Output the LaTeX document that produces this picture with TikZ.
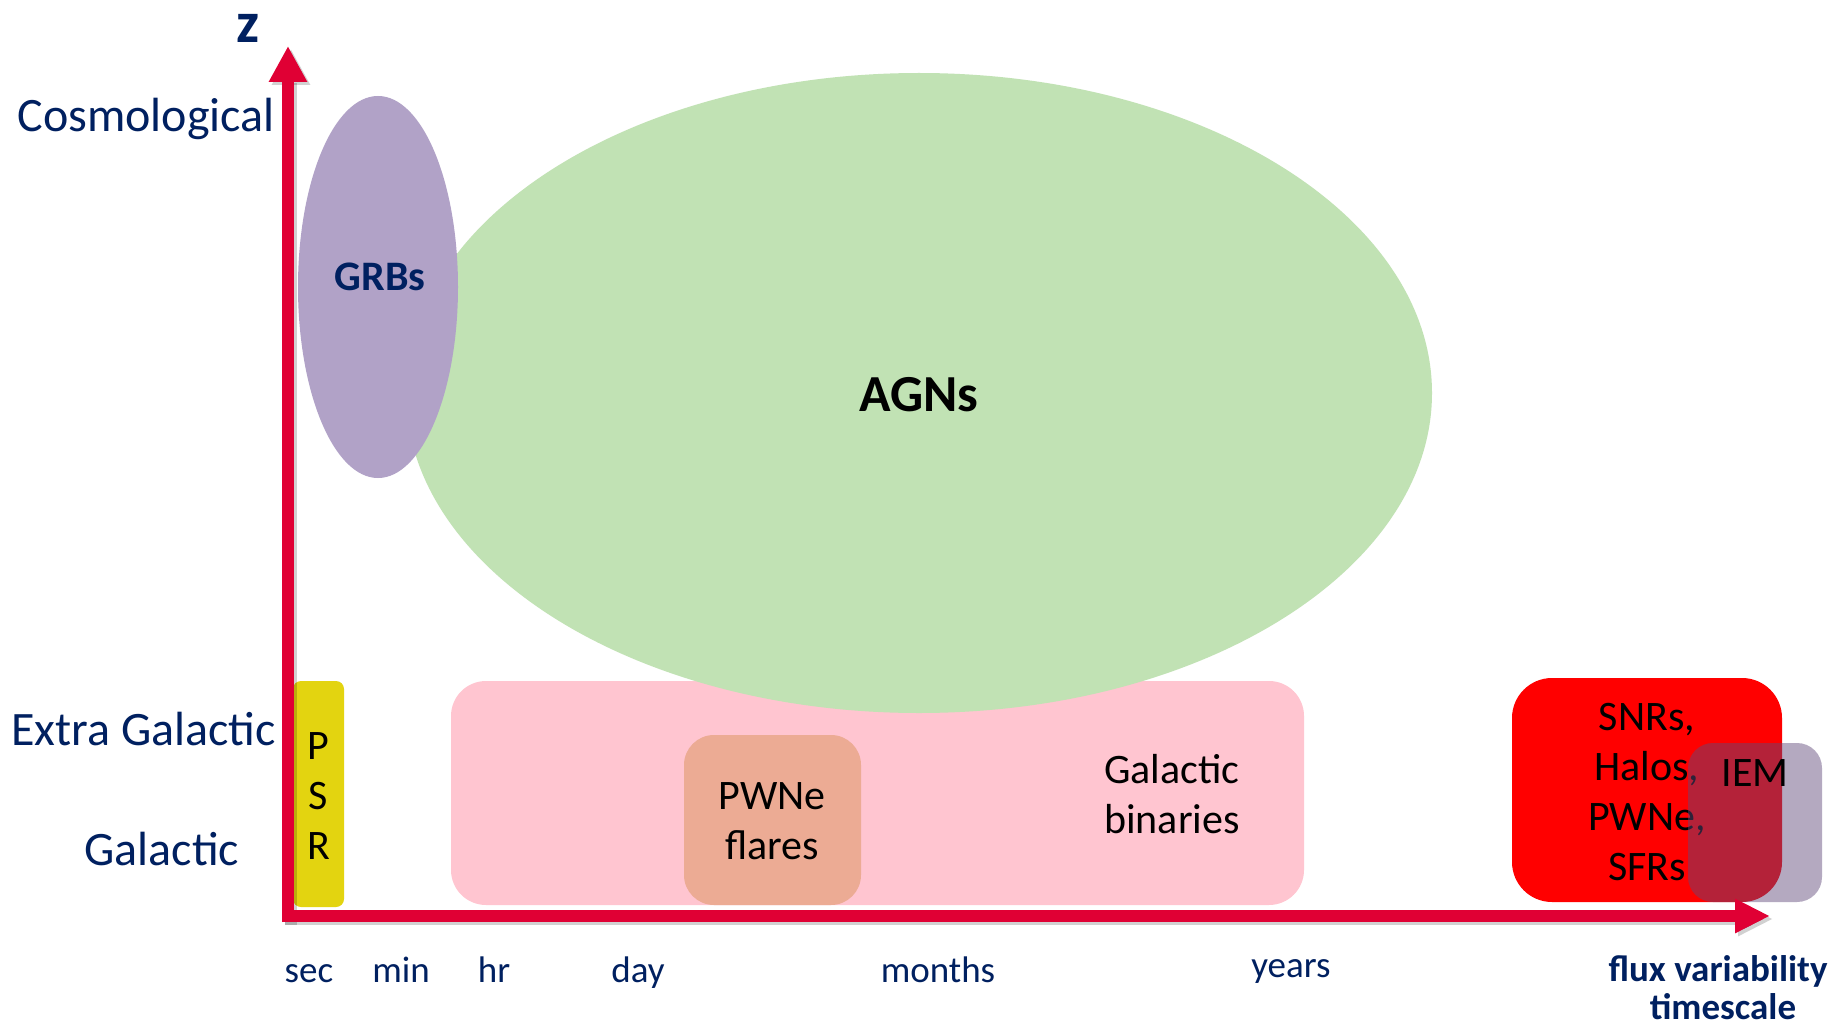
\documentclass[tikz,border=0pt]{standalone}
\usepackage{fontspec}
\setmainfont{Carlito}
\usetikzlibrary{arrows.meta,shapes.geometric}
\definecolor{navy}{RGB}{0,32,96}
\definecolor{axisred}{RGB}{224,0,52}
\definecolor{agngreen}{RGB}{193,226,180}
\definecolor{grbpurple}{RGB}{177,162,199}
\definecolor{galpink}{RGB}{255,197,208}
\definecolor{salmonc}{RGB}{236,171,148}
\definecolor{psryellow}{RGB}{227,212,16}
\definecolor{iemcol}{RGB}{96,74,123}
\begin{document}
\begin{tikzpicture}[x=1pt,y=-1pt,
  blob/.style={ellipse, inner sep=0pt},
  box/.style={rectangle, inner sep=0pt},
  lbl/.style={inner sep=0pt, text=navy, font=\fontsize{48}{56}\selectfont},
  tick/.style={inner sep=0pt, anchor=base, text=navy, font=\fontsize{37}{44}\selectfont},
  srctext/.style={inner sep=0pt, align=center, text=black, font=\fontsize{42}{50}\selectfont},
  axisline/.style={line width=11.5pt, draw=axisred},
  axshadow/.style={line width=11.5pt, draw=black, draw opacity=0.18},
]
\useasboundingbox (0,0) rectangle (1834,1027);
\fill[white] (0,0) rectangle (1834,1027);

% boxes and blobs
\node[box, fill=galpink, rounded corners=35pt, minimum width=853pt, minimum height=224pt] (gal) at (877.5,793) {};
\node[box, fill=salmonc, rounded corners=30pt, minimum width=177pt, minimum height=170pt] (pwnbox) at (772.5,820) {};
\node[blob, fill=agngreen, minimum width=1026pt, minimum height=640pt] (agn) at (919,393) {};
\node[blob, fill=grbpurple, minimum width=160pt, minimum height=382pt] (grb) at (378,287) {};

\node[srctext, font=\bfseries\fontsize{52}{62}\selectfont] (agnt) at (919,395) {AGNs};
\node[srctext, text=navy, font=\bfseries\fontsize{42}{50}\selectfont] (grbt) at (380,277) {GRBs};
\node[srctext] (pwnt) at (772,821) {PWNe\\flares};
\node[srctext] (galt) at (1172,794) {Galactic\\binaries};

\node[box, fill=psryellow, rounded corners=8pt, minimum width=51pt, minimum height=226pt] (psr) at (318.5,794) {};
\node[srctext] (psrt) at (318.5,796) {P\\S\\R};

\node[box, fill=red, rounded corners=40pt, minimum width=270pt, minimum height=224pt] (snr) at (1647,790) {};
\node[srctext] (snrt) at (1647,792) {SNRs,\\Halos,\\PWNe,\\SFRs};
\node[box, fill=iemcol, fill opacity=0.47, rounded corners=25pt, minimum width=134pt, minimum height=159pt] (iem) at (1755,822.5) {};
\node[srctext] (iemt) at (1755,773) {IEM};

% axes
\coordinate (origin) at (288,922);
\coordinate (ytip) at (288,46);
\coordinate (xorig) at (282,916);
\coordinate (xtip) at (1770,916);
\coordinate (origins) at (291,925);
\coordinate (ytips) at (291,49);
\coordinate (xorigs) at (285,919);
\coordinate (xtips) at (1773,919);
\draw[axshadow, -{Triangle[length=36pt,width=36pt]}] (origins) -- (ytips);
\draw[axshadow, -{Triangle[length=35pt,width=32pt]}] (xorigs) -- (xtips);
\draw[axisline, -{Triangle[length=36pt,width=36pt]}] (origin) -- (ytip);
\draw[axisline, -{Triangle[length=35pt,width=32pt]}] (xorig) -- (xtip);

% axis labels
\node[inner sep=0pt, anchor=base, text=navy, font=\bfseries\fontsize{58}{60}\selectfont] (zlab) at (248,43) {z};
\node[lbl, anchor=base east] (cosmo) at (275,132) {Cosmological};
\node[lbl, anchor=base east] (extra) at (276,745) {Extra Galactic};
\node[lbl, anchor=base] (galac) at (162,865) {Galactic};

\node[tick] (sec) at (309,982) {sec};
\node[tick] (min) at (401,982) {min};
\node[tick] (hr) at (494,982) {hr};
\node[tick] (day) at (638,982) {day};
\node[tick] (months) at (938,982) {months};
\node[tick] (years) at (1291,977) {years};
\node[inner sep=0pt, anchor=base, text=navy, font=\bfseries\fontsize{37}{44}\selectfont] (flux) at (1718,981) {flux variability};
\node[inner sep=0pt, anchor=base, text=navy, font=\bfseries\fontsize{37}{44}\selectfont] (tscale) at (1723,1019) {timescale};
\end{tikzpicture}
\end{document}
